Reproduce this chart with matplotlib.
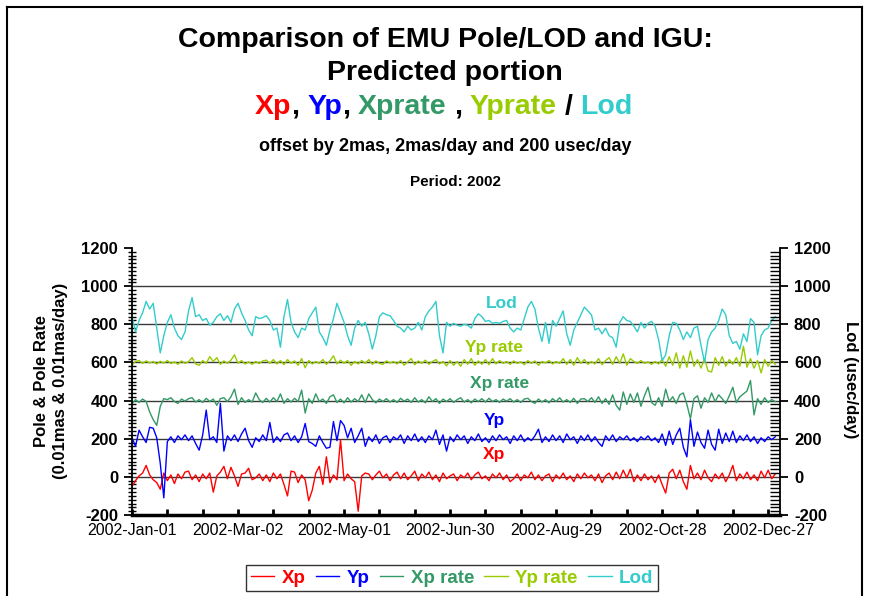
import datetime as dt
import numpy as np
import matplotlib
matplotlib.use('Agg')
import matplotlib.pyplot as plt
from matplotlib.lines import Line2D
from matplotlib.ticker import MultipleLocator

plt.rcParams['font.family'] = ['Liberation Sans', 'DejaVu Sans']

# residuals sampled every 2 days from 2002-Jan-01 (0.01 mas, 0.01 mas/day, usec/day)
xp = [-50, -20, 5, 20, 60, 10, -15, -30, -65, 20,
      -20, 10, -35, 15, -10, 25, 30, -15, 10, -25,
      15, -10, 20, -80, 5, 25, 55, -10, 50, 5,
      -50, 15, 20, 45, -15, -5, 15, -20, 10, -25,
      20, -10, 15, -40, -100, 30, 25, -30, 10, -15,
      -125, -70, 20, 55, -40, 105, -30, 10, -15, 195,
      -20, 15, -10, -25, -180, 5, 20, 15, -15, 10,
      30, -5, 15, -20, 10, 25, -10, 20, -15, 5,
      30, -20, 15, -5, 25, -15, 10, -25, 20, -10,
      5, 15, -20, 10, -5, 20, -15, 10, 25, -10,
      5, -20, 15, -5, 20, -15, 10, -25, -10, 15,
      -20, 10, -5, 25, -15, 10, -20, 5, 15, -25,
      10, -10, 20, -15, 5, -25, 15, -10, 20, -5,
      10, -20, 15, -30, 5, 20, -15, 25, -10, 35,
      -5, 40, -25, 10, -20, 15, -15, 5, -30, 10,
      -40, -85, 20, 40, -10, 35, -25, -65, 60, -10,
      20, -15, 35, -5, -25, 15, -10, 20, -25, 10,
      60, -20, 15, -10, 25, -15, 10, -20, 30, -5,
      35, -10, 15]

yp = [5, -40, 45, 10, -20, 60, 55, 5, -130, -310,
      -15, 10, -20, 15, -5, 20, -10, 15, -25, -60,
      20, 150, -5, 10, -20, 185, -65, 15, -10, 20,
      -15, 25, 55, -10, -45, 5, -15, 20, -10, 85,
      -20, 10, -15, 20, 30, -10, 15, -20, 10, 80,
      -15, -25, -40, 15, -20, -50, -45, 90, -10, 95,
      70, 5, 55, -20, 15, 55, -40, 10, -15, 20,
      -25, 5, 15, -20, 10, -5, 20, -25, 15, -10,
      25, -15, 10, -20, 15, -5, 45, -30, 20, -65,
      10, -15, 20, -5, 15, -25, 10, -10, 25, -15,
      5, -20, 15, -10, 20, -5, 10, -25, 15, -10,
      20, -15, 5, -10, 15, 50, -20, 10, -15, 20,
      -10, 15, -20, 25, -5, 10, -25, 15, -10, 20,
      -15, 10, -20, -40, 15, -10, 20, -15, 10, -5,
      15, -10, 5, -15, 10, -5, 15, -10, 5, -20,
      25, -35, 40, -30, 20, 55, -45, -95, 100, -40,
      35, -20, -50, 45, -30, -60, 50, -25, 30, -15,
      40, -20, 15, -10, 20, -15, 10, -25, 5, -15,
      10, -5, 10]

xprate = [-16, 5, -10, 8, -5, -60, -100, -130, -30, 10,
          5, 15, -5, -15, 8, -3, 10, 15, -8, 5,
          -10, 12, -5, 8, -25, 10, 15, -5, 20, 60,
          -20, 15, -10, 5, -8, 40, 5, -10, 12, -8,
          15, -5, 35, -15, 10, -8, 12, -5, 55, -65,
          10, -15, 35, -5, 8, -15, 20, 30, -10, 8,
          -12, 15, -8, 10, -5, 30, -10, 35, 5, -12,
          8, -5, 10, -8, 5, -10, 12, -3, 8, -10,
          15, -8, 5, -12, 20, -5, 10, -15, 8, -5,
          10, -10, 5, 15, -8, 5, -12, 8, -5, 10,
          -8, 12, -5, 5, -10, 8, -3, 10, -8, 5,
          -10, 8, 12, -5, -15, 8, -8, 5, -12, 10,
          -5, 15, -8, 5, -10, 12, -15, 8, 10, -5,
          15, -10, 20, -15, 10, -20, 30, -25, -50, 45,
          -20, 35, -10, 40, -30, 25, 70, -10, -25, 15,
          -30, 60, -5, 20, -15, 30, 40, -20, -95, 10,
          25, -40, 15, -10, 40, -5, 30, 10, -15, 25,
          70, -10, 20, 35, 50, 105, -75, 10, -20, 15,
          -10, 5, -5]

yprate = [-15, 5, 10, -5, 8, -3, 5, -8, 6, -4,
          10, -6, 3, -10, 8, -5, 4, 25, -8, -15,
          10, -5, 30, 5, 25, -10, 8, -5, 12, 40,
          -5, 10, -8, 3, -10, 5, -6, 8, 12, -5,
          15, -8, 10, -12, 15, -5, 8, -15, 20, -28,
          10, -8, 5, -5, 15, -10, 8, 35, -8, 12,
          -5, 10, -15, 5, -8, 10, -5, 15, -10, 8,
          -5, -10, 8, -3, 5, -8, 10, -15, 3, 20,
          -12, 8, -5, 12, -10, 5, 15, -8, 5, -18,
          10, -15, 5, -20, 15, -10, 20, -15, 8, -10,
          15, -12, 20, -8, 10, -5, 5, -10, 8, -5,
          3, -12, 10, -5, 8, -15, 5, -3, 10, -8,
          5, -5, 20, -10, 15, -15, 25, -5, 15, -10,
          5, -8, 20, -12, 10, 25, -10, 30, -5, 45,
          -15, 20, 5, -5, 10, -5, 3, -10, 5, -8,
          15, -20, 30, -15, 50, -30, 35, -25, 60, -20,
          15, -30, 20, -45, -50, 25, -15, 30, -20, 15,
          -10, 25, -20, 85, -25, 20, -30, 10, -55, 15,
          -20, 10, -10]

lod = [38, -40, 20, 60, 120, 80, 110, -20, -150, -60,
       10, 50, -20, -60, -80, -40, 70, 140, 40, 50,
       20, 30, -5, 10, 40, 55, 20, 45, 10, 80,
       110, 60, 20, -30, -60, 40, 30, 35, 45, 20,
       -30, -20, -120, 40, 130, 10, -40, -70, -20, -30,
       30, 60, 90, -40, -70, -110, -30, 30, 110, 60,
       10, -60, -110, -20, 20, -10, 10, -50, -130, -60,
       40, 60, 50, 45, 20, -10, -20, -40, -10, -30,
       -20, 10, -30, 40, 70, 90, 120, -60, -150, 10,
       -10, 5, -5, -10, 0, -5, -20, 30, 55, 40,
       15, 20, 5, 10, 5, 15, 20, -20, -40, -20,
       -30, 30, 90, 120, 80, -20, -90, 10, -100, 20,
       -10, 30, 70, -50, -110, -30, 10, 50, 90, 70,
       50, -30, -20, -50, -20, -60, -70, -120, 10, 40,
       20, 15, -10, -40, 10, -20, 5, 15, -10, -80,
       -190, -160, -60, 10, 5, -30, -80, -40, -70, -20,
       -10, -110, -200, -80, -40, -20, 20, 80, 50, -60,
       -100, -90, -130, -50, -90, 30, 10, -160, -60, -30,
       -20, 20, 40]

names = ['Xp', 'Yp', 'Xp rate', 'Yp rate', 'Lod']
series = [xp, yp, xprate, yprate, lod]
offsets = [0, 200, 400, 600, 800]
colors = ['#FF0000', '#0000FF', '#339966', '#99CC00', '#33CCCC']

start = dt.date(2002, 1, 1)
xtick_days = list(range(0, 361, 60))
xtick_labels = [(start + dt.timedelta(days=d)).strftime('%Y-%b-%d') for d in xtick_days]
yticks = list(range(-200, 1201, 200))

W, H = 870, 596
fig = plt.figure(figsize=(W / 100, H / 100), dpi=100)
ax = fig.add_axes([132 / W, 1 - 515 / H, (780 - 132) / W, (515 - 248) / H])

for v in range(0, 1001, 200):
    ax.axhline(v, color='#3a3a3a', lw=1.0, zorder=0.5)

handles = []
for name, vals, off, c in zip(names, series, offsets, colors):
    days = 2 * np.arange(len(vals))
    ln, = ax.plot(days, np.array(vals) + off, color=c, lw=1.0, label=name)
    handles.append(ln)

ax.set_xlim(0, 366.7)
ax.set_ylim(-200, 1200)

ax.spines['top'].set_visible(False)
ax.spines['right'].set_visible(False)
ax.spines['bottom'].set_linewidth(2.5)
ax.spines['left'].set_linewidth(1.3)

ax.set_xticks(xtick_days)
ax.set_xticklabels(xtick_labels, fontsize=11.5)
ax.xaxis.set_minor_locator(MultipleLocator(20))
ax.tick_params(axis='x', which='both', direction='in', length=4, width=2, pad=6)

ax.set_yticks(yticks)
ax.set_yticklabels([str(v) for v in yticks], fontsize=12, fontweight='bold')
ax.yaxis.set_minor_locator(MultipleLocator(20))
ax.tick_params(axis='y', which='major', direction='out', length=6, width=1.3, pad=4)
ax.tick_params(axis='y', which='minor', direction='inout', length=6, width=1.0)

ax2 = ax.twinx()
ax2.set_ylim(-200, 1200)
for s in ['top', 'left', 'bottom']:
    ax2.spines[s].set_visible(False)
ax2.spines['right'].set_linewidth(1.3)
ax2.set_yticks(yticks)
ax2.set_yticklabels([str(v) for v in yticks], fontsize=12, fontweight='bold')
ax2.yaxis.set_minor_locator(MultipleLocator(20))
ax2.tick_params(axis='y', which='major', direction='out', length=6, width=1.3, pad=4)
ax2.tick_params(axis='y', which='minor', direction='in', length=7, width=1.0)

# series names inside the plot
lbl_kw = dict(fontsize=12.5, fontweight='bold', ha='center', va='center')
ax.text(209, 907, 'Lod', color=colors[4], **lbl_kw)
ax.text(205, 676, 'Yp rate', color=colors[3], **lbl_kw)
ax.text(208, 487, 'Xp rate', color=colors[2], **lbl_kw)
ax.text(205, 293, 'Yp', color=colors[1], **lbl_kw)
ax.text(205, 115, 'Xp', color=colors[0], **lbl_kw)

# axis titles
fig.text(51 / W, 1 - 381 / H, 'Pole & Pole Rate\n(0.01mas & 0.01mas/day)',
         rotation=90, ha='center', va='center', fontsize=12, fontweight='bold',
         multialignment='center', linespacing=1.3)
fig.text(851 / W, 1 - 380 / H, 'Lod (usec/day)', rotation=270,
         ha='center', va='center', fontsize=12, fontweight='bold')

# titles
fig.text(445 / W, 1 - 40 / H, 'Comparison of EMU Pole/LOD and IGU:',
         ha='center', va='center', fontsize=20.5, fontweight='bold')
fig.text(445 / W, 1 - 73 / H, 'Predicted portion',
         ha='center', va='center', fontsize=20.5, fontweight='bold')

pieces = [('Xp', colors[0], 0), (',', 'black', 0), ('Yp', colors[1], 5.6),
          (',', 'black', 0), ('Xprate', colors[2], 5.6), (',', 'black', 5.6),
          ('Yprate', colors[3], 5.6), ('/', 'black', 5.6), ('Lod', colors[4], 5.6)]
prev = fig.text(255 / W, 1 - 107 / H, pieces[0][0], color=pieces[0][1],
                ha='left', va='center', fontsize=20.5, fontweight='bold')
for txt, c, gap in pieces[1:]:
    prev = ax.annotate(txt, xy=(1, 0), xycoords=prev, xytext=(gap, 0),
                       textcoords='offset points', ha='left', va='bottom',
                       color=c, fontsize=20.5, fontweight='bold', annotation_clip=False)

fig.text(445 / W, 1 - 147 / H, 'offset by 2mas, 2mas/day and 200 usec/day',
         ha='center', va='center', fontsize=13, fontweight='bold')
fig.text(456 / W, 1 - 182 / H, 'Period: 2002',
         ha='center', va='center', fontsize=11, fontweight='bold')

leg = fig.legend(handles, names, loc='center', bbox_to_anchor=(452 / W, 1 - 578 / H),
                 ncol=5, frameon=True, fancybox=False, edgecolor='black',
                 prop={'weight': 'bold', 'size': 13.5}, labelcolor='linecolor',
                 handlelength=1.25, handletextpad=0.4, columnspacing=0.55,
                 borderpad=0.25, borderaxespad=0)
leg.get_frame().set_linewidth(1.0)

# page border
for xs, ys in [([7, 7], [7, H]), ([7, 862], [7, 7]), ([862, 862], [7, H])]:
    fig.add_artist(Line2D([x / W for x in xs], [1 - y / H for y in ys],
                          transform=fig.transFigure, color='black', lw=1.5))

fig.savefig('out.png', dpi=100)
